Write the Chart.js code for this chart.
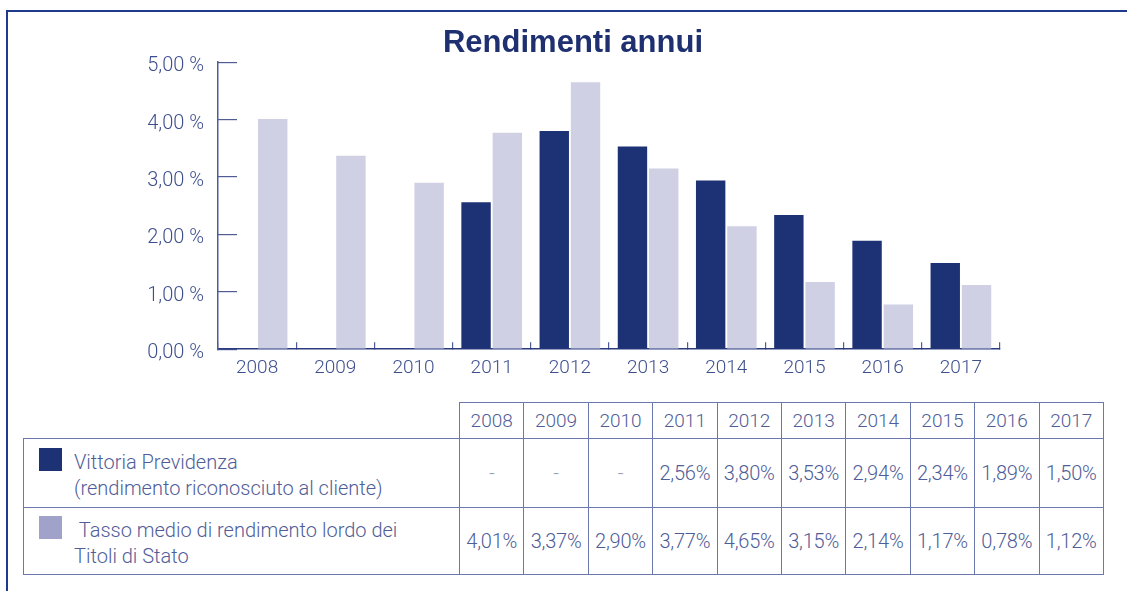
<!DOCTYPE html>
<html>
<head>
<meta charset="utf-8">
<script src="https://cdn.jsdelivr.net/npm/chart.js@4.4.0/dist/chart.umd.min.js"></script>
<style>
  html, body { margin: 0; padding: 0; background: #fff; width: 1127px; height: 591px; overflow: hidden; }
  #frame { position: absolute; left: 6px; top: 10px; width: 1200px; height: 700px; border-left: 2px solid #1f3a8c; border-top: 2px solid #1f3a8c; box-sizing: border-box; }
  #wrap { position: absolute; left: 0; top: 0; width: 1127px; height: 395px; }
  #t { position: absolute; left: 23px; top: 402px; border-collapse: collapse; table-layout: fixed; width: 1080px;
       font-family: Roboto, "Liberation Sans", sans-serif; font-weight: 300; color: #4f5d98; }
  #t td { border: 1.5px solid #6a78ae; padding: 0; text-align: center; vertical-align: middle; font-size: 20px; white-space: nowrap; letter-spacing: -0.2px; }
  #t td.blank { border: none; }
  #t tr.h td { height: 35px; font-size: 19px; letter-spacing: 0; }
  #t tr.r1 td { height: 68px; }
  #t tr.r2 td { height: 66px; }
  #t td.dash { color: #9aa0b8; }
  #t td.lab { text-align: left; vertical-align: top; position: relative; font-size: 20px; letter-spacing: 0; }
  .sw { position: absolute; left: 15px; width: 23px; height: 23px; }
  .txt { line-height: 26px; }
</style>
</head>
<body>
<div id="frame"></div>
<div id="wrap"><canvas id="c" width="1127" height="395"></canvas></div>
<table id="t"></table>
<script>
const categories = ['2008','2009','2010','2011','2012','2013','2014','2015','2016','2017'];
const vittoriaLabel = ['Vittoria Previdenza', '(rendimento riconosciuto al cliente)'];
const titoliLabel = ['\u00a0Tasso medio di rendimento lordo dei', 'Titoli di Stato'];
const vittoria = [null, null, null, 2.56, 3.80, 3.53, 2.94, 2.34, 1.89, 1.50];
const titoli = [4.01, 3.37, 2.90, 3.77, 4.65, 3.15, 2.14, 1.17, 0.78, 1.12];
const yTicks = [0, 1, 2, 3, 4, 5];
const title = 'Rendimenti annui';

const DARK = '#1d3275';
const LIGHT = '#cfd0e4';
const LIGHT_SW = '#a0a2c9';
const AXIS = '#4e5d96';
const TXT = '#3e4f8e';

const fmt = v => v.toFixed(2).replace('.', ',');

new Chart(document.getElementById('c'), {
  type: 'bar',
  data: {
    labels: categories,
    datasets: [
      { label: vittoriaLabel.join(' '), data: vittoria, backgroundColor: DARK, categoryPercentage: 0.8, barPercentage: 0.94 },
      { label: titoliLabel.join(' '), data: titoli, backgroundColor: LIGHT, categoryPercentage: 0.8, barPercentage: 0.94 }
    ]
  },
  options: {
    responsive: false,
    animation: false,
    devicePixelRatio: 1,
    layout: { padding: { left: 146, right: 127, top: 0, bottom: 0 } },
    plugins: {
      legend: { display: false },
      tooltip: { enabled: false },
      title: {
        display: true, text: title, color: '#1e3070',
        font: { family: '"Liberation Sans", Arial, sans-serif', size: 31, weight: 'bold' },
        padding: { top: 25, bottom: 0 }
      }
    },
    scales: {
      x: {
        offset: true,
        grid: { display: true, drawOnChartArea: false, drawTicks: true, tickLength: -7, offset: true, color: AXIS, lineWidth: 1.2 },
        border: { display: true, color: '#2b3b80', width: 1.5 },
        ticks: { color: TXT, padding: 15, font: { family: 'Roboto, "Liberation Sans", sans-serif', size: 19, weight: 300 } }
      },
      y: {
        min: 0, max: 5,
        afterFit: s => { s.width = 72; },
        afterBuildTicks: s => { s.ticks = yTicks.map(v => ({ value: v })); },
        grid: { display: true, drawOnChartArea: false, drawTicks: true, tickLength: -19, color: AXIS, lineWidth: 1.2 },
        border: { display: true, color: AXIS, width: 1.5 },
        ticks: {
          color: TXT, padding: 33, labelOffset: 4,
          font: { family: 'Roboto, "Liberation Sans", sans-serif', size: 20, weight: 300 },
          callback: v => fmt(v) + ' %'
        }
      }
    }
  }
});

// table built from the same arrays
const t = document.getElementById('t');
let html = '<colgroup><col style="width:436px">' + categories.map(() => '<col style="width:64.4px">').join('') + '</colgroup>';
html += '<tr class="h"><td class="blank"></td>' + categories.map(c => '<td>' + c + '</td>').join('') + '</tr>';
const rowHtml = (cls, lab, sw, top, txtTop, vals) =>
  '<tr class="' + cls + '"><td class="lab"><span class="sw" style="background:' + sw + ';top:' + top + 'px"></span>' +
  '<div class="txt" style="padding-left:' + 50 + 'px;padding-top:' + txtTop + 'px">' + lab.join('<br>') + '</div></td>' +
  vals.map(v => v == null ? '<td class="dash">-</td>' : '<td>' + fmt(v) + '%</td>').join('') + '</tr>';
html += rowHtml('r1', vittoriaLabel, DARK, 9, 10, vittoria);
html += rowHtml('r2', titoliLabel, LIGHT_SW, 8, 9, titoli);
t.innerHTML = html;
</script>
</body>
</html>
